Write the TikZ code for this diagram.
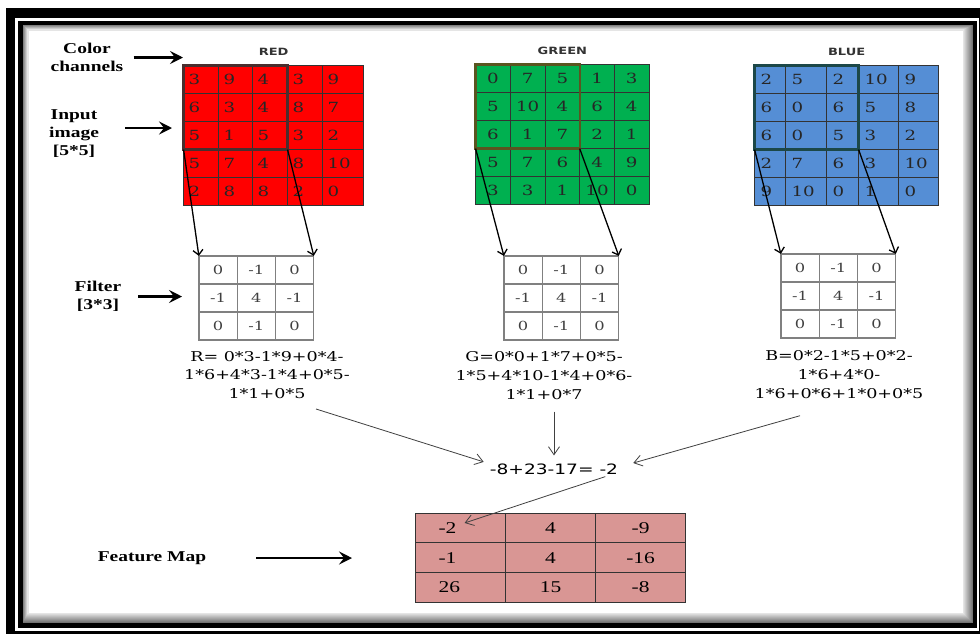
\documentclass[tikz,border=0pt]{standalone}
\usepackage{fontspec}
\usepackage{tikz}
\usetikzlibrary{arrows.meta,matrix,positioning}

\newfontfamily\lblfont{Liberation Serif}[FakeStretch=1.3]
\newfontfamily\numfont{DejaVu Serif}[FakeStretch=1.3]
\newfontfamily\sumfont{DejaVu Sans}[FakeStretch=1.3]

\definecolor{chred}{HTML}{FF0000}
\definecolor{chgreen}{HTML}{00B050}
\definecolor{chblue}{HTML}{558ED5}
\definecolor{fmapfill}{HTML}{D99694}
\definecolor{winred}{HTML}{4A2E2E}
\definecolor{wingreen}{HTML}{5A5520}
\definecolor{winblue}{HTML}{1C4848}

\tikzset{
  cell/.style={draw=black!80, line width=0.8pt, inner sep=0pt, outer sep=0pt,
    anchor=center, minimum height=28pt},
  chan/.style={matrix of nodes, anchor=north west, inner sep=0pt,
    column sep=-0.8pt, row sep=-0.8pt,
    nodes={cell, fill=#1, text=black!85, font=\numfont\fontsize{14}{15}\selectfont}},
  kern/.style={matrix of nodes, anchor=north west, inner sep=0pt,
    column sep=-1.3pt, row sep=-1.3pt,
    nodes={cell, draw=black!50, line width=1.3pt, minimum width=38.3pt,
      text=black!75, font=\numfont\fontsize{12.5}{14}\selectfont}},
  fmapgrid/.style={matrix of nodes, anchor=north west, inner sep=0pt,
    column sep=-0.8pt, row sep=-0.8pt,
    nodes={cell, fill=fmapfill, minimum width=90pt, minimum height=29.7pt,
      font=\lblfont\fontsize{16.5}{18}\selectfont}},
  win/.style={draw=#1, line width=2.4pt},
  lbl/.style={font=\lblfont\bfseries\fontsize{15}{18}\selectfont, align=center, inner sep=1pt},
  chname/.style={font=\sumfont\bfseries\fontsize{10}{12}\selectfont, text=black!80},
  formula/.style={font=\numfont\fontsize{13.5}{18.7}\selectfont, align=center, inner sep=2pt},
  bigarrow/.style={line width=2.4pt, -{Stealth[length=13pt,width=13pt,inset=5pt]}},
  feed/.style={line width=1.3pt, -{Straight Barb[length=5pt,width=10pt]}},
  sumarrow/.style={draw=black!75, line width=0.8pt, -{Straight Barb[length=8pt,width=11pt]}},
}

\begin{document}
\begin{tikzpicture}[x=1pt,y=-1pt]
  \fill[white] (0,0) rectangle (980,635);
  \useasboundingbox (0,0) rectangle (980,635);

  % double frame, soft edge inside
  \fill (6,8) rectangle (990,633.5);
  \fill[white] (15,18) rectangle (978.5,631);
  \fill (18,21) rectangle (977,628);
  \fill[white] (23,25) rectangle (973,623);
  \foreach \i in {0,...,9}{
    \pgfmathtruncatemacro\gv{55-5*\i}
    \draw[black!\gv, line width=1.1pt] (23.5+0.5*\i,25.5+0.5*\i) rectangle (972.5-\i,622.5-\i);
  }

  % input channels
  \matrix[chan=chred, nodes={inner xsep=5pt, text width=25pt, align=left},
    column 2/.style={nodes={text width=24pt}},
    column 5/.style={nodes={text width=31pt}}] (red) at (183,65) {
    3 & 9 & 4 & 3 & 9 \\
    6 & 3 & 4 & 8 & 7 \\
    5 & 1 & 5 & 3 & 2 \\
    5 & 7 & 4 & 8 & 10 \\
    2 & 8 & 8 & 2 & 0 \\
  };
  \matrix[chan=chgreen, nodes={minimum width=34.7pt}] (green) at (475,64) {
    0 & 7 & 5 & 1 & 3 \\
    5 & 10 & 4 & 6 & 4 \\
    6 & 1 & 7 & 2 & 1 \\
    5 & 7 & 6 & 4 & 9 \\
    3 & 3 & 1 & 10 & 0 \\
  };
  \matrix[chan=chblue, nodes={inner xsep=6pt, text width=19pt, align=left},
    column 2/.style={nodes={text width=29pt}},
    column 3/.style={nodes={text width=20pt}},
    column 4/.style={nodes={text width=28pt}},
    column 5/.style={nodes={text width=28pt}}] (blue) at (754,65) {
    2 & 5 & 2 & 10 & 9 \\
    6 & 0 & 6 & 5 & 8 \\
    6 & 0 & 5 & 3 & 2 \\
    2 & 7 & 6 & 3 & 10 \\
    9 & 10 & 0 & 1 & 0 \\
  };

  \node[chname, above=6pt of red] (redname) {RED};
  \node[chname, above=6pt of green] (greenname) {GREEN};
  \node[chname, above=6pt of blue] (bluename) {BLUE};

  % 3x3 window on each channel
  \draw[win=winred] (red-1-1.north west) rectangle (red-3-3.south east);
  \draw[win=wingreen] (green-1-1.north west) rectangle (green-3-3.south east);
  \draw[win=winblue] (blue-1-1.north west) rectangle (blue-3-3.south east);

  % filters
  \matrix[kern] (redf) at (198,255) {0 & -1 & 0 \\ -1 & 4 & -1 \\ 0 & -1 & 0 \\};
  \matrix[kern] (greenf) at (503,255) {0 & -1 & 0 \\ -1 & 4 & -1 \\ 0 & -1 & 0 \\};
  \matrix[kern] (bluef) at (780,253) {0 & -1 & 0 \\ -1 & 4 & -1 \\ 0 & -1 & 0 \\};

  \draw[feed] (red-3-1.south west) -- (redf-1-1.north west);
  \draw[feed] (red-3-3.south east) -- (redf-1-3.north east);
  \draw[feed] (green-3-1.south west) -- (greenf-1-1.north west);
  \draw[feed] (green-3-3.south east) -- (greenf-1-3.north east);
  \draw[feed] (blue-3-1.south west) -- (bluef-1-1.north west);
  \draw[feed] (blue-3-3.south east) -- (bluef-1-3.north east);

  % per channel sums
  \node[formula] (rsum) at (267,375) {R= 0*3-1*9+0*4-\\1*6+4*3-1*4+0*5-\\1*1+0*5};
  \node[formula] (gsum) at (544,375.5) {G=0*0+1*7+0*5-\\1*5+4*10-1*4+0*6-\\1*1+0*7};
  \node[formula] (bsum) at (839,374.7) {B=0*2-1*5+0*2-\\1*6+4*0-\\1*6+0*6+1*0+0*5};

  \node[font=\sumfont\fontsize{14.3}{16}\selectfont, inner sep=3pt] (total) at (554,469) {-8+23-17= -2};

  \draw[sumarrow] ([shift={(49,8)}]rsum.south) -- ([shift={(-3,1.5)}]total.north west);
  \draw[sumarrow, shorten <=10pt, shorten >=5pt] (total.north |- gsum.south) -- (total.north);
  \draw[sumarrow] ([shift={(-39,15)}]bsum.south) -- ([shift={(12,-6)}]total.east);

  % output
  \matrix[fmapgrid, column 1/.style={nodes={inner xsep=23pt, text width=44pt, align=left}}] (fmap) at (415,512.5) {
    -2 & 4 & -9 \\
    -1 & 4 & -16 \\
    26 & 15 & -8 \\
  };
  \draw[sumarrow] ([shift={(-16,-1)}]total.south east) -- ([shift={(4,-5)}]fmap-1-1.center);

  % labels on the left
  \node[lbl] (chlab) at (87,57.5) {Color\\channels};
  \node[lbl] (inlab) at (74,134) {Input\\image\\{[5*5]}};
  \node[lbl] (filtlab) at (98,296.5) {Filter\\{[3*3]}};
  \node[lbl] (fmlab) at (152,558) {Feature Map};

  \draw[bigarrow] ([xshift=9pt]chlab.east) -- (chlab.east -| red.west);
  \coordinate (inarrow) at ([shift={(25,-6)}]inlab.east);
  \draw[bigarrow, shorten >=11pt] (inarrow) -- (inarrow -| red.west);
  \draw[bigarrow, shorten >=16pt] ([xshift=16pt]filtlab.east) -- (filtlab -| redf.west);
  \draw[bigarrow, shorten >=63pt] ([xshift=49pt]fmlab.east) -- (fmlab -| fmap.west);
\end{tikzpicture}
\end{document}
